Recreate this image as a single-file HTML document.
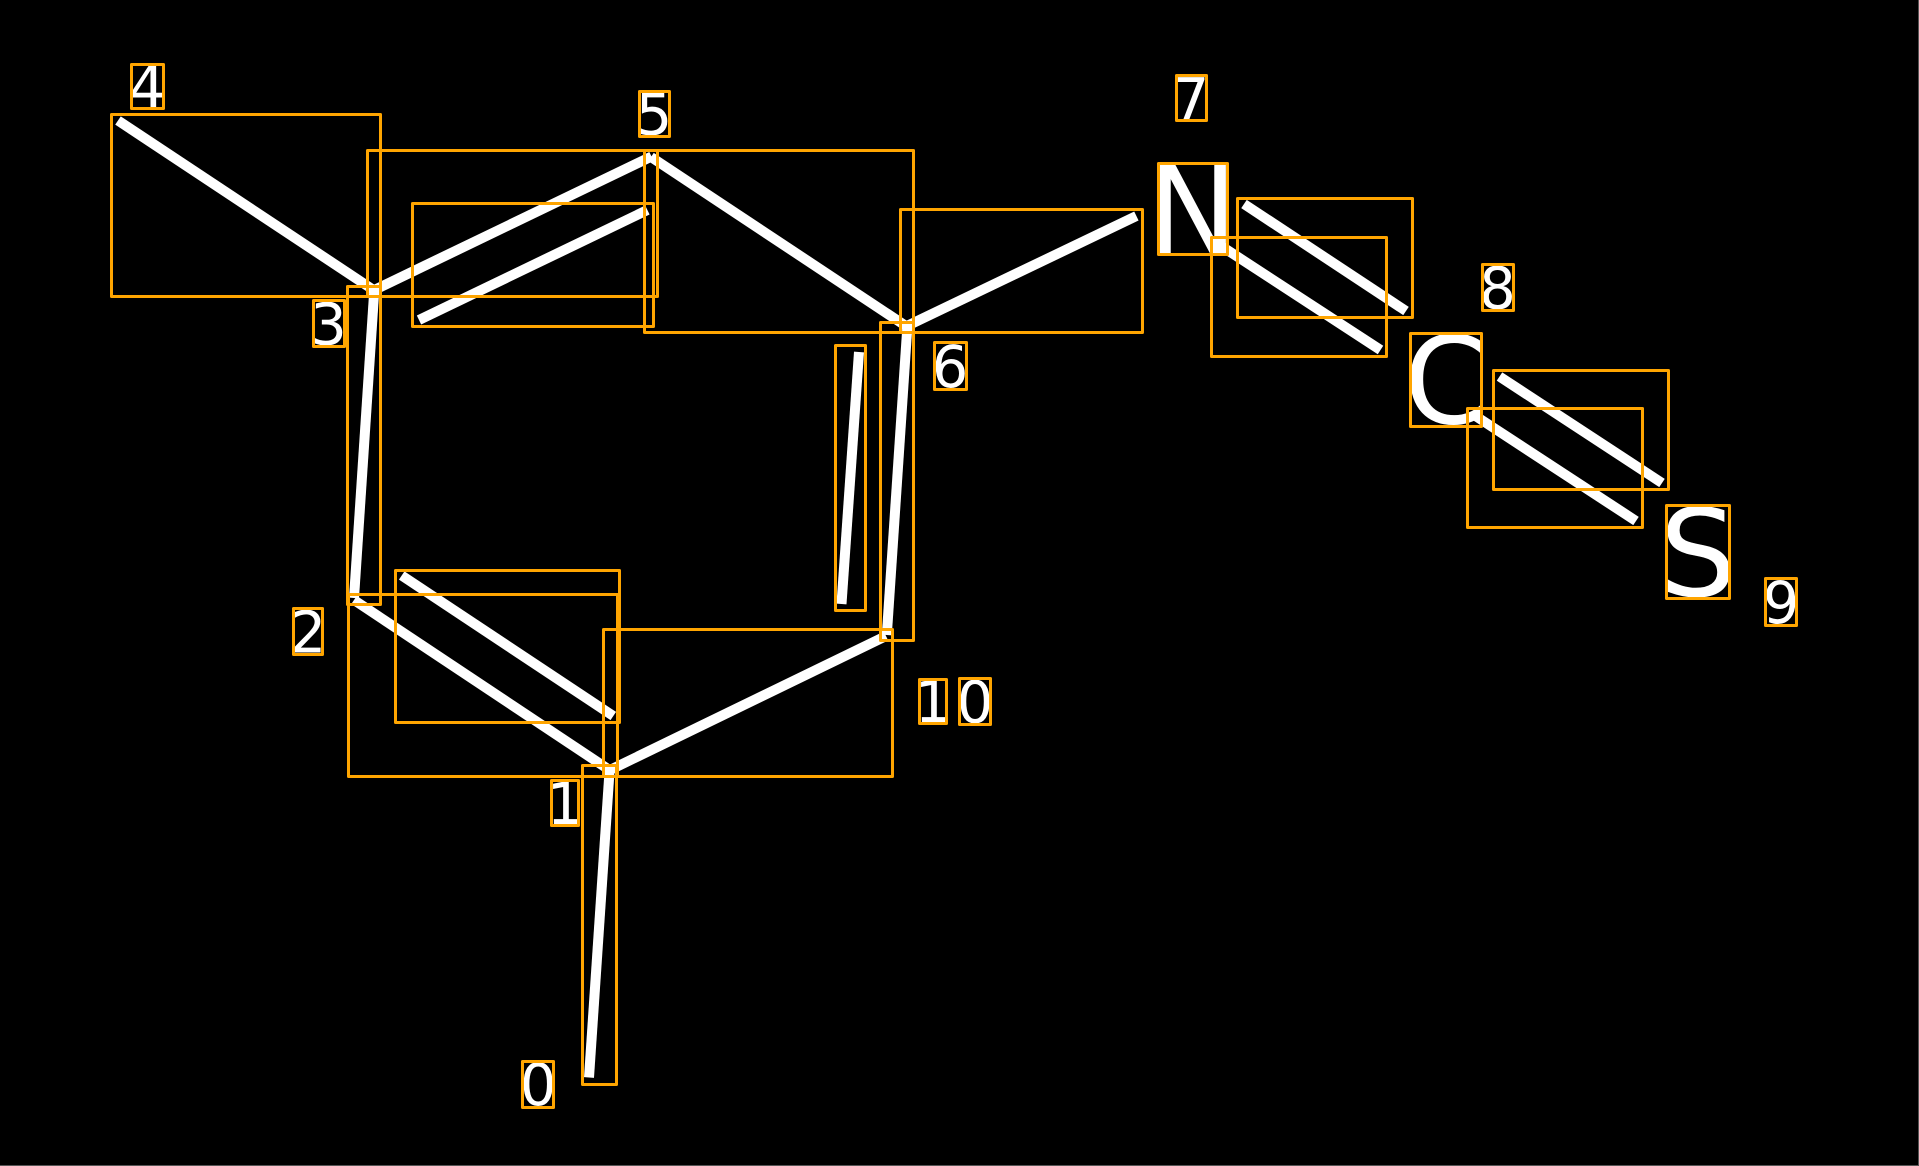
<!DOCTYPE html>
<html><head><meta charset="utf-8"><title>Diagram</title>
<style>
html,body{margin:0;padding:0;background:#000;width:1919px;height:1166px;overflow:hidden}
svg{display:block}
text{font-family:"DejaVu Sans",sans-serif;fill:#fff;text-anchor:middle}
.d{font-size:57.5px}.a{font-size:121px}
line{stroke:#fff;stroke-width:10;stroke-linecap:butt}
rect{fill:none;stroke:#ffa500;stroke-width:3;stroke-linejoin:round}
</style></head><body>
<svg width="1919" height="1166" viewBox="0 0 1919 1166" xmlns="http://www.w3.org/2000/svg">
<rect x="0" y="0" width="1919" height="1166" style="fill:#000;stroke:none"/>
<rect x="1918" y="0" width="1" height="1166" style="fill:#555;stroke:none"/>
<rect x="0" y="1165" width="1919" height="1" style="fill:#555;stroke:none"/>
<g>
<line x1="589" y1="1077.5" x2="609.6" y2="770"/>
<line x1="610" y1="770" x2="886" y2="636"/>
<line x1="354" y1="600" x2="611" y2="771"/>
<line x1="401.7" y1="575.5" x2="613.3" y2="716"/>
<line x1="354" y1="598" x2="374.3" y2="290"/>
<line x1="118" y1="120.5" x2="374.3" y2="290.5"/>
<line x1="374.3" y1="290" x2="651.5" y2="156.5"/>
<line x1="419" y1="320" x2="647.4" y2="210"/>
<line x1="651" y1="157" x2="907.4" y2="327"/>
<line x1="906.9" y1="326" x2="1136.4" y2="216"/>
<line x1="907.4" y1="326" x2="886.8" y2="635"/>
<line x1="859" y1="352" x2="841.5" y2="604"/>
<line x1="1218" y1="244" x2="1380.5" y2="350"/>
<line x1="1244" y1="204" x2="1406" y2="311"/>
<line x1="1474" y1="415" x2="1636" y2="521"/>
<line x1="1499.5" y1="376.5" x2="1662" y2="483"/>
</g>
<g>
<text class="d" x="538.2" y="1105">0</text>
<text class="d" x="565" y="824">1</text>
<text class="d" x="308" y="652.5">2</text>
<text class="d" x="328.5" y="344.5">3</text>
<text class="d" x="147" y="107.5">4</text>
<text class="d" x="654" y="134.5">5</text>
<text class="d" x="950" y="387">6</text>
<text class="d" x="1191" y="119.5">7</text>
<text class="d" x="1497.5" y="308.5">8</text>
<text class="d" x="1781" y="623">9</text>
<text class="d" x="933" y="722">1</text>
<text class="d" x="975" y="722.5">0</text>
<text class="a" x="1192.5" y="253">N</text>
<text class="a" x="1446" y="423.5">C</text>
<text class="a" x="1698" y="596">S</text>
</g>
<g>
<rect x="582.5" y="765.5" width="34" height="319"/>
<rect x="603.5" y="629.5" width="289" height="147"/>
<rect x="348.5" y="594.5" width="269" height="182"/>
<rect x="395.5" y="570.5" width="224" height="152"/>
<rect x="347.5" y="286.5" width="33" height="318"/>
<rect x="111.5" y="114.5" width="269" height="182"/>
<rect x="367.5" y="150.5" width="290" height="146"/>
<rect x="412.5" y="203.5" width="241" height="123"/>
<rect x="644.5" y="150.5" width="269" height="182"/>
<rect x="900.5" y="209.5" width="242" height="123"/>
<rect x="880.5" y="322.5" width="33" height="318"/>
<rect x="835.5" y="345.5" width="30" height="265"/>
<rect x="1211.5" y="237.5" width="175" height="119"/>
<rect x="1237.5" y="198.5" width="175" height="119"/>
<rect x="1467.5" y="408.5" width="175" height="119"/>
<rect x="1493.5" y="370.5" width="175" height="119"/>
<rect x="522.5" y="1061.5" width="31" height="46"/>
<rect x="551.5" y="780.5" width="27" height="45"/>
<rect x="293.5" y="608.5" width="29" height="46"/>
<rect x="313.5" y="300.5" width="31" height="46"/>
<rect x="131.5" y="64.5" width="32" height="44"/>
<rect x="639.5" y="91.5" width="30" height="45"/>
<rect x="934.5" y="342.5" width="32" height="47"/>
<rect x="1176.5" y="75.5" width="30" height="45"/>
<rect x="1482.5" y="264.5" width="31" height="46"/>
<rect x="1765.5" y="578.5" width="31" height="47"/>
<rect x="919.5" y="679.5" width="27" height="44"/>
<rect x="959.5" y="678.5" width="31" height="46"/>
<rect x="1158.5" y="163.5" width="69" height="91"/>
<rect x="1410.5" y="333.5" width="71" height="93"/>
<rect x="1666.5" y="505.5" width="63" height="93"/>
</g>
</svg>
</body></html>
